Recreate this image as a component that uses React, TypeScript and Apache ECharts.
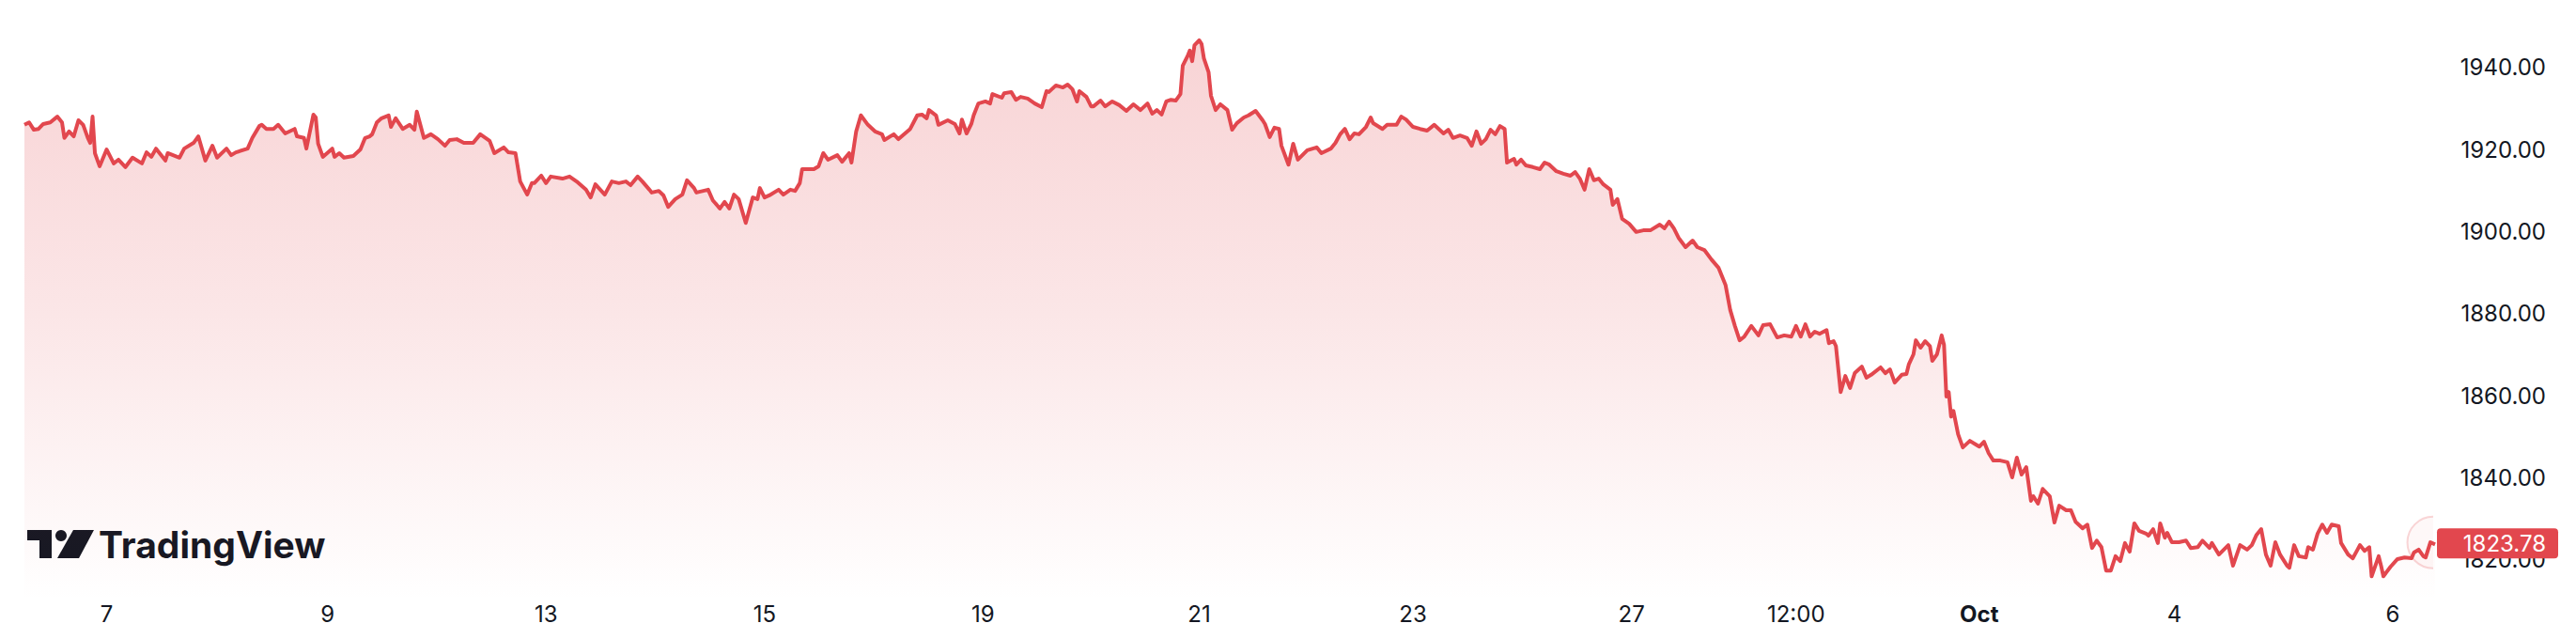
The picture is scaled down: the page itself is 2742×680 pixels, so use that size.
import React, { useEffect, useRef } from "react";
import * as echarts from "echarts";

// x = 30-minute bar index (weekend gaps removed), y = price
const barIndex: number[] = [
  0, 2, 4, 6, 8, 11, 14, 16, 17, 19, 21, 23, 25, 27, 28, 29, 30, 32, 35, 38, 40, 43, 46, 50, 52, 54, 56, 60, 61, 66,
  68, 72, 74, 77, 80, 82, 86, 88, 90, 95, 97, 100, 101, 103, 106, 108, 111, 115, 116, 119, 120, 123, 124, 125, 127, 131, 132, 134, 136, 140,
  143, 145, 147, 148, 150, 152, 155, 156, 158, 161, 164, 166, 167, 170, 173, 176, 179, 181, 184, 187, 191, 194, 198, 200, 204, 206, 209, 211, 214, 216,
  217, 220, 222, 224, 229, 232, 235, 239, 241, 243, 247, 250, 253, 256, 258, 261, 263, 266, 267, 270, 272, 274, 277, 280, 282, 285, 286, 291, 293, 296,
  298, 300, 302, 304, 307, 310, 312, 313, 315, 317, 321, 323, 326, 328, 330, 331, 336, 338, 340, 342, 346, 348, 351, 352, 354, 356, 359, 362, 365, 366,
  370, 372, 377, 380, 382, 384, 385, 388, 389, 393, 396, 398, 399, 401, 403, 404, 406, 409, 411, 412, 416, 417, 420, 422, 424, 427, 430, 433, 435, 436,
  439, 442, 444, 446, 448, 449, 452, 454, 455, 458, 460, 463, 466, 469, 472, 475, 478, 480, 482, 484, 486, 488, 490, 492, 493, 495, 496, 497, 498, 500,
  501, 502, 504, 505, 507, 509, 512, 514, 516, 519, 521, 524, 527, 528, 530, 532, 534, 535, 538, 540, 542, 546, 550, 552, 556, 558, 560, 562, 564, 566,
  568, 571, 573, 574, 578, 580, 584, 586, 588, 591, 594, 597, 600, 604, 606, 608, 611, 614, 616, 618, 620, 622, 624, 626, 628, 630, 631, 634, 635, 637,
  639, 642, 645, 647, 649, 652, 655, 658, 660, 662, 664, 666, 668, 670, 672, 675, 676, 678, 680, 683, 686, 689, 692, 696, 698, 700, 702, 704, 707, 710,
  712, 715, 718, 721, 724, 726, 728, 730, 732, 735, 738, 740, 743, 746, 749, 752, 754, 756, 758, 760, 762, 764, 767, 768, 770, 771, 773, 775, 777, 779,
  782, 784, 786, 790, 792, 794, 796, 799, 801, 802, 804, 805, 807, 809, 811, 812, 814, 816, 817, 818, 819, 820, 821, 823, 825, 828, 830, 832, 834, 836,
  838, 841, 844, 846, 848, 850, 852, 854, 855, 857, 859, 862, 864, 866, 869, 871, 873, 876, 878, 880, 882, 884, 886, 888, 890, 892, 894, 896, 898, 900,
  903, 904, 906, 908, 909, 911, 912, 914, 917, 920, 922, 925, 927, 930, 931, 934, 938, 940, 943, 946, 948, 950, 952, 954, 956, 958, 960, 963, 964, 966,
  968, 971, 972, 974, 976, 978, 980, 982, 985, 986, 989, 991, 993, 994, 996, 998, 999, 1002, 1003, 1004, 1007, 1010, 1013, 1016, 1017, 1019, 1021, 1022, 1024, 1026,
];

const price: number[] = [
  1926.0, 1926.6, 1924.8, 1925.0, 1926.2, 1926.6, 1928.0, 1926.6, 1922.8, 1924.4, 1923.2, 1927.1, 1926.0, 1922.8, 1921.6, 1928.0, 1919.1, 1915.9, 1920.0, 1916.6, 1917.5, 1915.7, 1918.0, 1916.6, 1919.3, 1918.2, 1920.2, 1917.3, 1919.1, 1918.0,
  1920.2, 1921.6, 1923.2, 1917.3, 1920.9, 1918.0, 1920.2, 1918.6, 1919.3, 1920.2, 1922.8, 1925.7, 1926.0, 1925.0, 1925.0, 1926.0, 1923.9, 1925.0, 1923.2, 1922.8, 1920.2, 1928.5, 1927.8, 1921.4, 1918.2, 1920.2, 1918.2, 1919.1, 1918.0, 1918.4,
  1920.0, 1922.8, 1923.2, 1923.7, 1926.6, 1927.6, 1928.3, 1925.5, 1927.6, 1925.0, 1926.0, 1924.8, 1929.2, 1922.8, 1923.7, 1922.5, 1920.9, 1922.3, 1922.5, 1921.6, 1921.6, 1923.7, 1922.1, 1919.1, 1920.5, 1919.3, 1919.1, 1912.2, 1909.0, 1911.8,
  1911.8, 1913.6, 1911.8, 1913.4, 1912.9, 1913.4, 1912.2, 1910.2, 1908.3, 1911.5, 1909.0, 1912.2, 1911.8, 1912.2, 1911.3, 1913.4, 1912.2, 1910.2, 1909.5, 1909.9, 1908.8, 1906.0, 1907.9, 1909.0, 1912.5, 1910.6, 1909.5, 1910.2, 1907.6, 1905.6,
  1907.2, 1905.6, 1909.0, 1907.9, 1902.1, 1908.3, 1907.9, 1910.6, 1908.3, 1908.8, 1910.2, 1909.0, 1910.2, 1909.9, 1911.8, 1915.2, 1915.2, 1915.9, 1919.1, 1917.5, 1918.6, 1917.0, 1919.1, 1916.8, 1924.4, 1928.3, 1926.0, 1924.4, 1923.7, 1922.3,
  1923.7, 1922.5, 1925.0, 1928.3, 1928.5, 1927.6, 1929.6, 1928.3, 1926.0, 1927.1, 1926.2, 1923.9, 1927.3, 1923.9, 1926.2, 1928.3, 1931.2, 1931.7, 1931.2, 1933.5, 1932.6, 1933.7, 1934.0, 1932.1, 1932.8, 1932.4, 1931.2, 1930.3, 1934.2, 1934.0,
  1935.6, 1935.1, 1935.8, 1934.7, 1931.7, 1934.2, 1932.8, 1930.5, 1930.5, 1931.9, 1930.5, 1931.7, 1930.8, 1929.4, 1931.0, 1929.6, 1931.2, 1928.7, 1929.6, 1928.5, 1931.7, 1932.1, 1931.9, 1933.5, 1940.4, 1942.7, 1944.1, 1941.5, 1945.4, 1946.6,
  1945.7, 1942.2, 1938.8, 1933.1, 1929.6, 1931.0, 1929.6, 1924.8, 1926.4, 1927.8, 1928.3, 1929.4, 1927.1, 1926.2, 1923.0, 1925.3, 1925.0, 1920.9, 1916.3, 1921.4, 1917.5, 1919.8, 1920.5, 1919.1, 1920.2, 1921.6, 1923.7, 1925.0, 1922.5, 1923.9,
  1923.7, 1925.5, 1927.8, 1926.4, 1925.0, 1926.0, 1926.0, 1928.0, 1927.3, 1925.5, 1925.0, 1924.6, 1926.0, 1923.9, 1924.8, 1922.8, 1923.4, 1922.8, 1920.9, 1924.4, 1921.4, 1922.5, 1924.8, 1923.7, 1925.7, 1925.0, 1916.8, 1917.7, 1916.3, 1917.5,
  1916.1, 1915.7, 1915.2, 1916.8, 1916.3, 1914.7, 1914.1, 1913.6, 1914.5, 1912.9, 1910.2, 1915.2, 1912.5, 1912.9, 1911.5, 1910.2, 1906.5, 1907.9, 1903.1, 1901.9, 1899.9, 1900.3, 1900.3, 1901.7, 1900.8, 1902.4, 1900.8, 1898.5, 1896.2, 1897.8,
  1896.2, 1895.5, 1893.2, 1891.2, 1887.0, 1880.9, 1877.0, 1873.5, 1874.4, 1877.0, 1874.7, 1877.2, 1877.4, 1874.2, 1874.7, 1874.4, 1877.0, 1874.4, 1877.4, 1874.4, 1875.6, 1875.1, 1876.0, 1872.8, 1873.3, 1872.1, 1860.9, 1864.8, 1861.9, 1865.5,
  1867.1, 1864.4, 1865.1, 1866.9, 1865.5, 1866.4, 1863.2, 1865.1, 1865.3, 1867.6, 1870.1, 1873.5, 1871.7, 1873.3, 1872.1, 1868.5, 1870.1, 1874.7, 1872.4, 1859.8, 1860.9, 1854.9, 1856.3, 1850.6, 1847.4, 1849.0, 1848.3, 1847.6, 1848.8, 1846.0,
  1844.2, 1844.2, 1843.8, 1840.1, 1844.9, 1840.8, 1842.6, 1834.4, 1835.5, 1833.7, 1837.3, 1835.5, 1829.1, 1833.2, 1832.1, 1832.1, 1829.3, 1827.7, 1828.6, 1822.9, 1824.7, 1823.1, 1817.4, 1817.4, 1820.9, 1819.7, 1824.1, 1822.0, 1828.9, 1827.1,
  1826.4, 1825.9, 1827.5, 1824.1, 1828.9, 1825.4, 1826.6, 1824.3, 1824.3, 1824.7, 1822.9, 1823.1, 1824.7, 1822.9, 1824.1, 1821.3, 1823.6, 1818.6, 1823.6, 1822.5, 1823.6, 1826.1, 1827.5, 1821.3, 1818.6, 1824.3, 1821.3, 1818.6, 1818.1, 1823.6,
  1820.9, 1820.6, 1823.1, 1822.5, 1826.4, 1828.6, 1826.6, 1828.6, 1828.2, 1824.1, 1821.3, 1820.4, 1822.5, 1823.6, 1822.2, 1823.1, 1816.0, 1820.9, 1818.6, 1816.0, 1818.3, 1820.2, 1820.6, 1820.4, 1821.8, 1822.5, 1820.9, 1820.6, 1824.3, 1823.78,
];

// x-axis tick labels (bar index -> text)
const tickBars: number[] = [35, 129, 222, 315, 408, 500, 591, 684, 754, 832, 915, 1008];
const tickLabels: string[] = ["7", "9", "13", "15", "19", "21", "23", "27", "12:00", "Oct", "4", "6"];
const boldTicks: string[] = ["Oct"];

// y-axis range and labelled price levels
const yMin = 1810;
const yMax = 1950;
const yStep = 10;
const yLabelEvery = 20;

const RED = "#e2474e";
const TEXT = "#131722";
const FONT = "Inter, 'Noto Sans', sans-serif";

export default function App() {
  const ref = useRef<HTMLDivElement | null>(null);

  useEffect(() => {
    if (!ref.current) return;
    const chart = echarts.init(ref.current, undefined, { renderer: "svg" });

    const seriesData = barIndex.map((b, i) => [b, price[i]]);
    const lastBar = barIndex[barIndex.length - 1];
    const lastPrice = price[price.length - 1];
    const labelOf = (v: number) => {
      const i = tickBars.indexOf(Math.round(v));
      if (i < 0) return "";
      const t = tickLabels[i];
      return boldTicks.includes(t) ? `{b|${t}}` : t;
    };

    chart.setOption({
      animation: false,
      backgroundColor: "#ffffff",
      grid: {
        left: 26,
        right: 150,
        top: 28,
        bottom: 40.5,
        containLabel: false,
        outerBoundsMode: "none",
      },
      xAxis: {
        type: "value",
        min: 0,
        max: lastBar,
        axisLine: { show: false },
        axisTick: { show: false },
        splitLine: { show: false },
        axisLabel: {
          customValues: tickBars,
          formatter: (v: number) => labelOf(v),
          margin: 2,
          color: TEXT,
          fontFamily: FONT,
          fontSize: 24,
          showMinLabel: true,
          showMaxLabel: true,
          rich: {
            b: { fontWeight: "bold", fontFamily: FONT, fontSize: 24, color: TEXT },
          },
        },
      },
      yAxis: {
        type: "value",
        position: "right",
        min: yMin,
        max: yMax,
        interval: yStep,
        axisLine: { show: false },
        axisTick: { show: false },
        splitLine: { show: false },
        axisLabel: {
          align: "right",
          margin: 118,
          color: TEXT,
          fontFamily: FONT,
          fontSize: 24,
          formatter: (v: number) => (Math.round(v) % yLabelEvery === 0 ? v.toFixed(2) : ""),
        },
      },
      series: [
        {
          type: "line",
          data: seriesData,
          showSymbol: false,
          symbol: "none",
          z: 3,
          lineStyle: { color: RED, width: 4, join: "round" },
          areaStyle: {
            color: new echarts.graphic.LinearGradient(0, 0, 0, 1, [
              { offset: 0, color: "rgba(226,71,78,0.34)" },
              { offset: 0.5, color: "rgba(226,71,78,0.19)" },
              { offset: 1, color: "rgba(226,71,78,0.0)" },
            ]),
          },
        },
        {
          type: "custom",
          z: 10,
          clip: false,
          silent: true,
          data: [[lastBar, lastPrice]],
          renderItem: (params: any, api: any) => {
            const p = api.coord([api.value(0), api.value(1)]);
            const cx = p[0] - 2;
            const cy = p[1] - 2;
            return {
              type: "group",
              children: [
                {
                  type: "sector",
                  shape: { cx, cy, r: 27.5, r0: 0, startAngle: Math.PI / 2, endAngle: Math.PI * 1.5 },
                  style: { fill: "rgba(226,71,78,0.04)" },
                },
                {
                  type: "arc",
                  shape: { cx, cy, r: 27.5, startAngle: Math.PI / 2, endAngle: Math.PI * 1.5 },
                  style: { stroke: "rgba(226,71,78,0.22)", lineWidth: 2, fill: null },
                },
                {
                  type: "rect",
                  shape: { x: p[0] + 2, y: p[1] - 17, width: 129, height: 32, r: 4 },
                  style: { fill: RED },
                },
                {
                  type: "text",
                  style: {
                    x: p[0] + 118,
                    y: p[1] - 1,
                    text: api.value(1).toFixed(2),
                    fill: "#ffffff",
                    font: `24px ${FONT}`,
                    align: "right",
                    verticalAlign: "middle",
                  },
                },
              ],
            };
          },
        },
      ],
      graphic: [
        {
          type: "group",
          z: 100,
          children: [
            { type: "rect", shape: { x: 29, y: 564, width: 26, height: 11 }, style: { fill: TEXT } },
            { type: "rect", shape: { x: 42, y: 564, width: 13, height: 30 }, style: { fill: TEXT } },
            { type: "circle", shape: { cx: 65, cy: 570, r: 6 }, style: { fill: TEXT } },
            {
              type: "polygon",
              shape: { points: [[78, 564], [100, 564], [84, 594], [61, 594]] },
              style: { fill: TEXT },
            },
            {
              type: "text",
              style: {
                x: 105,
                y: 579,
                text: "TradingView",
                fill: TEXT,
                font: `bold 39px ${FONT}`,
                verticalAlign: "middle",
                align: "left",
              },
            },
          ],
        },
      ],
    });

    return () => chart.dispose();
  }, []);

  return (
    <div
      ref={ref}
      style={{ position: "fixed", left: 0, top: 0, width: 2742, height: 680, background: "#ffffff" }}
    />
  );
}
